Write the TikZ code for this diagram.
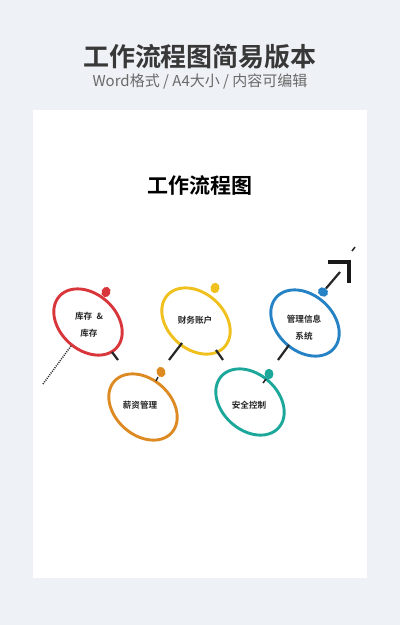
\documentclass[tikz,border=0pt]{standalone}
\usepackage{fontspec}
\setmainfont{Noto Sans CJK SC}[BoldFont={Noto Sans CJK SC Bold}]
\usetikzlibrary{shapes.geometric}
\definecolor{bg}{HTML}{EEF1F5}
\definecolor{cred}{HTML}{D9363C}
\definecolor{corange}{HTML}{DE8A22}
\definecolor{cyellow}{HTML}{F0C01C}
\definecolor{cteal}{HTML}{1BA89B}
\definecolor{cblue}{HTML}{2582C4}
\definecolor{ttl}{HTML}{383838}
\definecolor{sub}{HTML}{6A6A6A}
\tikzset{
  ring/.style={ellipse, draw=#1, line width=2.9pt, minimum width=77pt, minimum height=56pt, inner sep=0pt, rotate=-42},
  dot/.style={ellipse, fill=#1, minimum width=9pt, minimum height=10.5pt, inner sep=0pt},
  lbl/.style={font=\bfseries\fontsize{8.6}{17}\selectfont, text=black!85, align=center, inner sep=0pt},
  stub/.style={line width=2.2pt, black!85},
}
\begin{document}
\begin{tikzpicture}[x=1pt,y=-1pt]
\fill[bg] (0,0) rectangle (400,625);
\useasboundingbox (0,0) rectangle (400,625);
\fill[white] (33,110) rectangle (367,578);
\node[font=\bfseries\fontsize{26}{30}\selectfont, text=ttl] (title) at (200,57) {工作流程图简易版本};
\node[font=\fontsize{15}{17}\selectfont, text=sub] (subtitle) at (200,81) {Word格式 / A4大小 / 内容可编辑};
\node[font=\bfseries\fontsize{21}{24}\selectfont, text=black] (head) at (200,186) {工作流程图};

% rings
\node[ring=cred] (r1) at (88,322) {};
\node[ring=corange] (r2) at (143,407) {};
\node[ring=cyellow] (r3) at (196,321) {};
\node[ring=cteal] (r4) at (250,402) {};
\node[ring=cblue] (r5) at (305,323) {};

% labels
\node[lbl] (t1) at (89,325) {库存\enspace\&\\库存};
\node[lbl] (t2) at (140,405) {薪资管理};
\node[lbl] (t3) at (195,320) {财务账户};
\node[lbl] (t4) at (249,405) {安全控制};
\node[lbl] (t5) at (304,328) {管理信息\\系统};

% dots
\node[dot=cred, rotate=-20] (d1) at (106,292) {};
\node[dot=corange, rotate=20] (d2) at (161,372) {};
\node[dot=cyellow, rotate=-10] (d3) at (215,288) {};
\node[dot=cteal] (d4) at (269,374) {};
\node[dot=cblue, rotate=60] (d5) at (323,292) {};

% stubs
\coordinate (a1) at (112,352); \coordinate (a2) at (118,360);
\draw[stub] (a1) -- (a2);
\coordinate (b1) at (182,343); \coordinate (b2) at (169,360);
\draw[stub] (b1) -- (b2);
\coordinate (c1) at (216,350); \coordinate (c2) at (223,360);
\draw[stub] (c1) -- (c2);
\coordinate (e1) at (289,345); \coordinate (e2) at (278,360);
\draw[stub] (e1) -- (e2);
\coordinate (f1) at (158,377); \coordinate (f2) at (156,381);
\draw[stub, line width=1.5pt] (f1) -- (f2);
\coordinate (g1) at (266,379); \coordinate (g2) at (263,383);
\draw[stub, line width=1.5pt] (g1) -- (g2);
\coordinate (h1) at (71,346); \coordinate (h2) at (43,384);
\draw[black!85, line width=1.5pt, dash pattern=on 1pt off 1.2pt] (h1) -- (h2);

% arrow at top right
\coordinate (p1) at (340,272);
\draw[stub] (d5) -- (p1);
\coordinate (q1) at (328,262); \coordinate (q2) at (349,262); \coordinate (q3) at (349,283);
\draw[line width=3.5pt, black!90, line cap=butt, line join=miter] (q1) -- (q2) -- (q3);
\coordinate (s1) at (352,251); \coordinate (s2) at (355,247);
\draw[line width=1.5pt, black!85] (s1) -- (s2);
\end{tikzpicture}
\end{document}
